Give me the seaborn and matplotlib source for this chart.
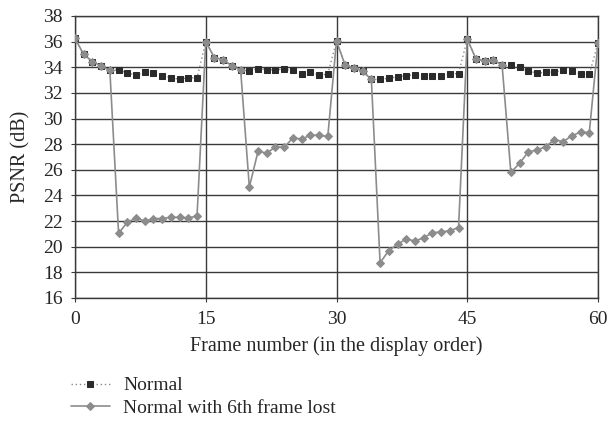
import numpy as np
import pandas as pd
import matplotlib
matplotlib.use("Agg")
import matplotlib.pyplot as plt
import seaborn as sns

frames = list(range(61))
normal = [36.25, 35.0, 34.45, 34.1, 33.75, 33.8, 33.55, 33.4, 33.6, 33.55,
          33.35, 33.2, 33.05, 33.2, 33.15, 36.0, 34.75, 34.6, 34.1, 33.8,
          33.7, 33.9, 33.8, 33.8, 33.85, 33.75, 33.5, 33.6, 33.4, 33.45,
          36.05, 34.15, 33.95, 33.7, 33.05, 33.05, 33.15, 33.25, 33.35, 33.4,
          33.3, 33.3, 33.3, 33.5, 33.5, 36.2, 34.65, 34.5, 34.6, 34.15,
          34.2, 34.0, 33.7, 33.55, 33.6, 33.65, 33.75, 33.7, 33.45, 33.45,
          35.9]
lost = [36.25, 35.0, 34.45, 34.1, 33.75, 21.05, 21.9, 22.25, 22.0, 22.2,
        22.2, 22.3, 22.3, 22.25, 22.4, 36.0, 34.75, 34.6, 34.1, 33.8,
        24.65, 27.45, 27.3, 27.8, 27.75, 28.5, 28.4, 28.7, 28.7, 28.6,
        36.05, 34.15, 33.95, 33.7, 33.05, 18.75, 19.7, 20.2, 20.6, 20.45,
        20.7, 21.1, 21.15, 21.25, 21.5, 36.2, 34.65, 34.5, 34.6, 34.15,
        25.8, 26.5, 27.4, 27.55, 27.8, 28.35, 28.2, 28.65, 28.95, 28.9,
        35.9]
labels = ["Normal", "Normal with 6th frame lost"]
x_ticks = [0, 15, 30, 45, 60]
y_ticks = list(range(16, 39, 2))

sns.set_style("white")
plt.rcParams['font.family'] = ['Liberation Serif', 'DejaVu Serif']

fig = plt.figure(figsize=(6.07, 4.28), dpi=100)
ax = fig.add_axes([75/607, 1 - 298/428, (598-75)/607, (298-16)/428])

df_n = pd.DataFrame({"frame": frames, "psnr": normal})
df_l = pd.DataFrame({"frame": frames, "psnr": lost})

sns.lineplot(data=df_n, x="frame", y="psnr", ax=ax, color="#8a8a8a",
             linestyle=(0, (1, 2)), linewidth=1.0, marker="s", markersize=5,
             markerfacecolor="#2b2b2b", markeredgecolor="#2b2b2b",
             label=labels[0], zorder=3)
sns.lineplot(data=df_l, x="frame", y="psnr", ax=ax, color="#8c8c8c",
             linestyle="-", linewidth=1.2, marker="D", markersize=4.5,
             markerfacecolor="#8c8c8c", markeredgecolor="#8c8c8c",
             label=labels[1], zorder=4)

ax.set_xlim(0, 60)
ax.set_ylim(16, 38)
ax.set_xticks(x_ticks)
ax.set_yticks(y_ticks)
ax.grid(True, color="#3a3a3a", linewidth=1.0)
ax.set_axisbelow(True)
for s in ax.spines.values():
    s.set_color("#3a3a3a")
    s.set_linewidth(1.0)
ax.tick_params(axis="both", labelsize=14, length=3, color="#3a3a3a",
               direction="out", left=True, bottom=True)
ax.tick_params(axis="y", pad=6)
ax.tick_params(axis="x", pad=6)
ax.set_xlabel("Frame number (in the display order)", fontsize=14.5, labelpad=6)
ax.set_ylabel("PSNR (dB)", fontsize=14.5, labelpad=9)

ax.legend(loc="upper left", bbox_to_anchor=(-12/523, -0.252), frameon=False,
          fontsize=14, handlelength=2.0, handletextpad=0.7, labelspacing=0.25,
          borderaxespad=0)

fig.savefig("out.png", dpi=100)
